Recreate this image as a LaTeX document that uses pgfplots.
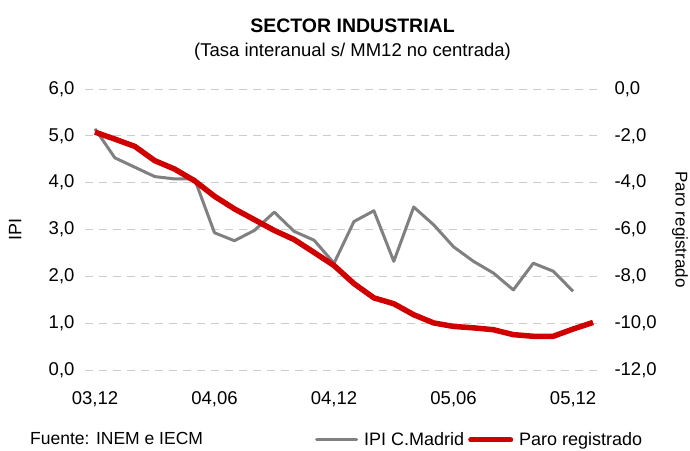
\documentclass[border=0pt]{standalone}
\usepackage{pgfplots}
\pgfplotsset{compat=1.18}
\usepackage{fontspec}
\setmainfont{Liberation Sans}
\definecolor{ipigray}{RGB}{128,128,128}
\definecolor{paroRed}{RGB}{208,0,0}
\definecolor{gridgray}{RGB}{204,204,204}

\begin{document}
\begin{tikzpicture}[x=1pt,y=1pt]
\useasboundingbox (0,0) rectangle (690,450);
\pgfplotsset{common/.style={
  at={(85pt,80pt)}, anchor=south west, scale only axis,
  width=518pt, height=281pt, xmin=-0.5, xmax=25.5,
  axis line style={draw=none}, major tick length=0pt,
  tick label style={font=\fontsize{18.5}{21}\selectfont},
  label style={font=\fontsize{18}{21}\selectfont},
  clip=false}}
\begin{axis}[common,
  ymin=0, ymax=6, ytick={0,1,2,3,4,5,6},
  yticklabels={{0,0},{1,0},{2,0},{3,0},{4,0},{5,0},{6,0}},
  ymajorgrids, grid style={gridgray, dash pattern=on 8pt off 6pt, line width=1pt},
  xtick={0,6,12,18,24},
  xticklabels={{03,12},{04,06},{04,12},{05,06},{05,12}},
  yticklabel style={xshift=-7pt},
  xticklabel style={yshift=-18pt},
  ylabel={IPI},
  ylabel style={at={(axis description cs:-0.135,0.5)}, anchor=center},
  legend style={at={(axis description cs:0.444,-0.249)}, anchor=west,
    draw=none, fill=none, font=\fontsize{18}{21}\selectfont,
    legend columns=2, inner sep=0pt,
    nodes={inner sep=0pt},
    /tikz/every odd column/.append style={column sep=6pt},
    /tikz/every even column/.append style={column sep=4pt}},
  legend image code/.code={\draw[#1, line cap=round] (2pt,0pt) -- (42pt,0pt);},
]
\addplot[ipigray, line width=3pt, line join=round] coordinates {
(0,5.15) (1,4.53) (2,4.33) (3,4.13) (4,4.08) (5,4.08) (6,2.93) (7,2.76)
(8,2.98) (9,3.37) (10,2.96) (11,2.77) (12,2.28) (13,3.17) (14,3.40)
(15,2.32) (16,3.48) (17,3.10) (18,2.63) (19,2.32) (20,2.07) (21,1.71)
(22,2.28) (23,2.11) (24,1.68)};
\addlegendentry{IPI C.Madrid}
\addlegendimage{paroRed, line width=5pt}
\addlegendentry{Paro registrado}
\end{axis}
\begin{axis}[common,
  axis y line*=right, axis x line=none,
  ymin=-12, ymax=0, ytick={-12,-10,-8,-6,-4,-2,0},
  yticklabels={{-12,0},{-10,0},{-8,0},{-6,0},{-4,0},{-2,0},{0,0}},
  yticklabel style={xshift=8pt},
  xtick=\empty,
  ylabel={Paro registrado},
  ylabel style={at={(axis description cs:1.1486,0.5)}, anchor=center, rotate=180,
    font=\fontsize{17}{20}\selectfont, inner sep=0pt},
]
\addplot[paroRed, line width=5.5pt, line join=round] coordinates {
(0,-1.84) (1,-2.14) (2,-2.45) (3,-3.06) (4,-3.42) (5,-3.92) (6,-4.58)
(7,-5.12) (8,-5.58) (9,-6.04) (10,-6.43) (11,-6.98) (12,-7.54) (13,-8.31)
(14,-8.92) (15,-9.17) (16,-9.64) (17,-9.99) (18,-10.14) (19,-10.20)
(20,-10.28) (21,-10.49) (22,-10.56) (23,-10.56) (24,-10.25) (25,-9.97)};
\end{axis}
\node[font=\bfseries\fontsize{19.5}{22}\selectfont] at (352.5,424.5) {SECTOR INDUSTRIAL};
\node[font=\fontsize{18.5}{21}\selectfont] at (352.5,398) {(Tasa interanual s/ MM12 no centrada)};
\node[font=\fontsize{17.5}{20}\selectfont, anchor=west, inner sep=0pt] at (30,12) {Fuente: INEM e IECM};
\end{tikzpicture}
\end{document}
